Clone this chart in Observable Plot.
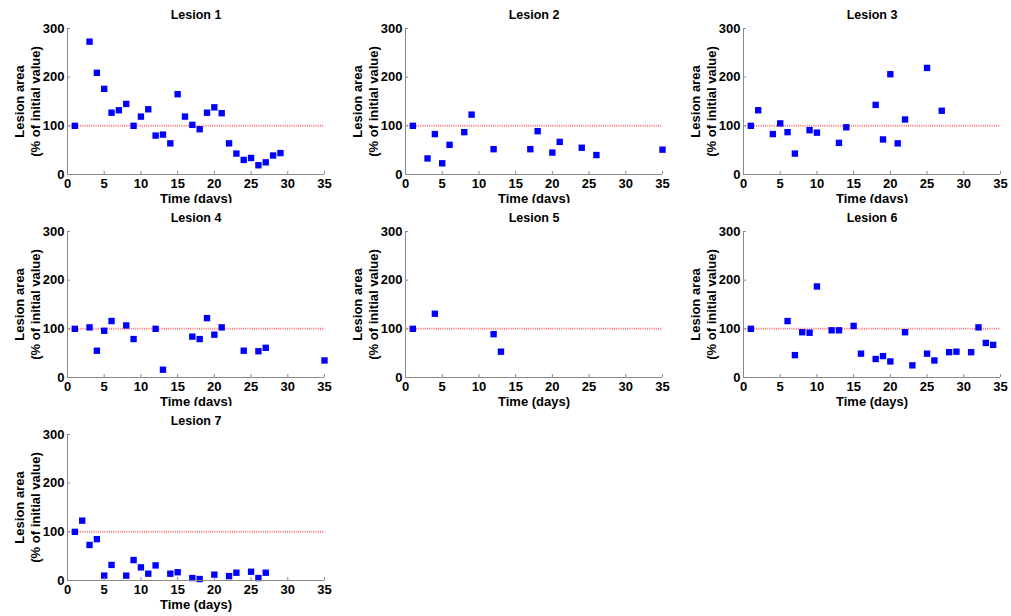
<!DOCTYPE html>
<html>
<head>
<meta charset="utf-8">
<script src="https://cdn.jsdelivr.net/npm/d3@7"></script>
<script src="https://cdn.jsdelivr.net/npm/@observablehq/plot@0.6"></script>
<style>
  html, body { margin: 0; padding: 0; background: #fff; overflow: hidden; }
  #chart { position: relative; width: 1011px; height: 616px; overflow: hidden; }
  .panel { position: absolute; }
</style>
</head>
<body>
<div id="chart"></div>
<script>
const xTicks = [0, 5, 10, 15, 20, 25, 30, 35];
const yTicks = [0, 100, 200, 300];
const lesionNames = ["Lesion 1", "Lesion 2", "Lesion 3", "Lesion 4", "Lesion 5", "Lesion 6", "Lesion 7"];
const xLabel = "Time (days)";
const yLabel = "Lesion area\n(% of initial value)";
const referenceLevel = [100];

const days1 = [1, 3, 4, 5, 6, 7, 8, 9, 10, 11, 12, 13, 14, 15, 16, 17, 18, 19, 20, 21, 22, 23, 24, 25, 26, 27, 28, 29];
const area1 = [100, 273, 209, 176, 127, 132, 145, 100, 119, 134, 80, 82, 64, 165, 119, 102, 93, 127, 138, 126, 64, 43, 30, 34, 19, 25, 39, 44];

const days2 = [1, 3, 4, 5, 6, 8, 9, 12, 17, 18, 20, 21, 24, 26, 35];
const area2 = [100, 33, 83, 23, 61, 87, 123, 52, 52, 89, 45, 67, 55, 40, 51];

const days3 = [1, 2, 4, 5, 6, 7, 9, 10, 13, 14, 18, 19, 20, 21, 22, 25, 27];
const area3 = [100, 132, 83, 105, 87, 43, 91, 86, 65, 97, 143, 72, 206, 64, 113, 219, 131];

const days4 = [1, 3, 4, 5, 6, 8, 9, 12, 13, 17, 18, 19, 20, 21, 24, 26, 27, 35];
const area4 = [100, 103, 55, 96, 116, 107, 79, 100, 16, 84, 79, 122, 88, 103, 55, 54, 61, 35];

const days5 = [1, 4, 12, 13];
const area5 = [100, 131, 89, 53];

const days6 = [1, 6, 7, 8, 9, 10, 12, 13, 15, 16, 18, 19, 20, 22, 23, 25, 26, 28, 29, 31, 32, 33, 34];
const area6 = [100, 116, 46, 93, 92, 187, 97, 97, 106, 49, 38, 44, 33, 93, 25, 49, 35, 52, 53, 52, 103, 71, 67];

const days7 = [1, 2, 3, 4, 5, 6, 8, 9, 10, 11, 12, 14, 15, 17, 18, 20, 22, 23, 25, 26, 27];
const area7 = [100, 123, 73, 85, 10, 32, 10, 42, 27, 14, 31, 14, 17, 5, 3, 12, 9, 16, 18, 5, 16];

const allDays = [days1, days2, days3, days4, days5, days6, days7];
const allAreas = [area1, area2, area3, area4, area5, area6, area7];

const axisGray = "#8a8a8a";
const chart = document.getElementById("chart");

lesionNames.forEach((name, k) => {
  const col = k % 3, row = Math.floor(k / 3);
  const data = allDays[k].map((d, i) => ({day: d, area: allAreas[k][i]}));
  const w = col === 2 ? 335 : 338;
  const plot = Plot.plot({
    width: w,
    height: 203,
    marginLeft: 67,
    marginRight: w - 67 - 257,
    marginTop: 28,
    marginBottom: 29,
    style: {fontFamily: "'Liberation Sans', Arial, sans-serif", fontSize: "13px", fontWeight: "bold", color: "#000", background: "#fff", overflow: "visible"},
    x: {domain: [0, 35]},
    y: {domain: [0, 300]},
    marks: [
      Plot.ruleY(referenceLevel, {x1: 0, x2: 35, stroke: "#ff0000", strokeOpacity: 0.55, strokeWidth: 2, strokeDasharray: "1,1.2"}),
      Plot.dot(data, {x: "day", y: "area", symbol: "square", r: 3.6, fill: "#0000ff"}),
      Plot.ruleX([0], {stroke: axisGray}),
      Plot.ruleY([0], {stroke: axisGray}),
      Plot.axisX({ticks: xTicks, tickSize: -3, tickPadding: 7, stroke: axisGray, fontSize: 13, fontWeight: "bold", label: xLabel, labelAnchor: "center", labelOffset: 28, labelArrow: "none"}),
      Plot.axisY({ticks: yTicks, tickSize: -3, tickPadding: 6, stroke: axisGray, fontSize: 13, fontWeight: "bold", label: null}),
      Plot.text([yLabel], {frameAnchor: "left", rotate: -90, dx: -41, textAnchor: "middle", lineAnchor: "middle", lineHeight: 1.25, fontSize: 13, fontWeight: "bold", fill: "#000"}),
      Plot.text([name], {frameAnchor: "top", dy: -14, textAnchor: "middle", lineAnchor: "middle", fontSize: 12.5, fontWeight: "bold", fill: "#000"})
    ]
  });
  const div = document.createElement("div");
  div.className = "panel";
  div.style.left = (col * 338) + "px";
  div.style.top = (row * 203) + "px";
  div.appendChild(plot);
  chart.appendChild(div);
});
</script>
</body>
</html>
